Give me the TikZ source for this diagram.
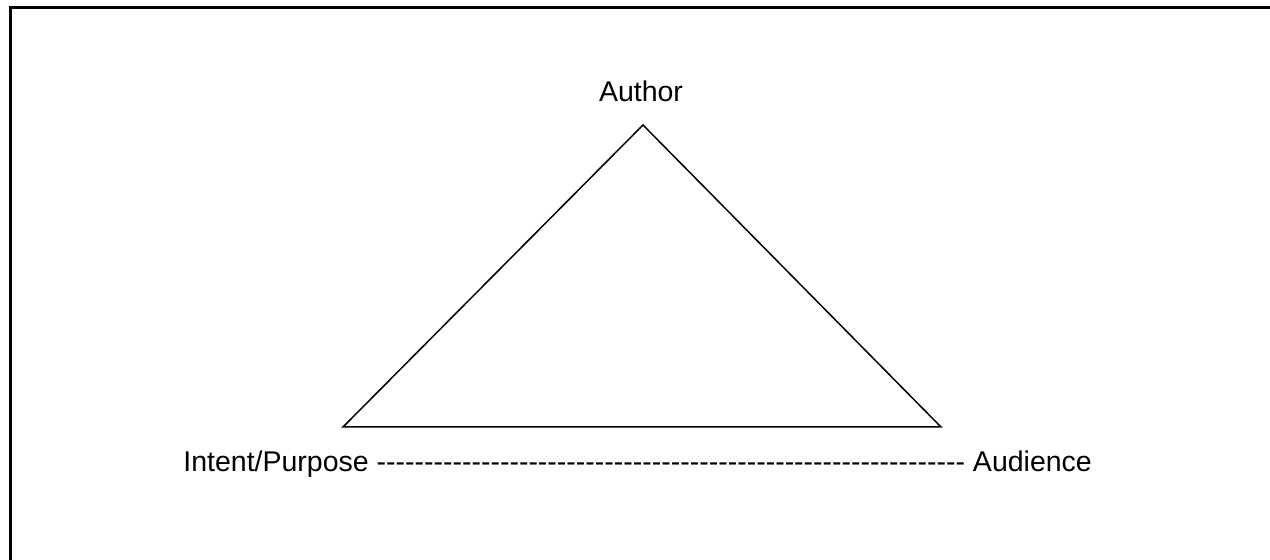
\documentclass[tikz,border=0pt]{standalone}
\usepackage{fontspec}
\setmainfont{Liberation Sans}
\newcommand\hyphrun[1]{\foreach\k in {1,...,#1}{\mbox{-}}}
\begin{document}
\begin{tikzpicture}[x=0.5pt,y=-0.5pt,
  lbl/.style={inner sep=0pt,font=\fontsize{14.25}{17}\selectfont},
  frameline/.style={line width=1.5pt},
  triline/.style={line width=0.75pt,line join=miter}]
\useasboundingbox (0,0) rectangle (1270,560);
% frame (open to right and bottom)
\coordinate (fbl) at (10,560);
\coordinate (ftl) at (10,8);
\coordinate (ftr) at (1270,8);
\draw[frameline] (fbl) -- (ftl) -- (ftr);
% triangle
\coordinate (apex) at (643,125);
\coordinate (bl) at (343,427);
\coordinate (br) at (941,427);
\draw[triline] (apex) -- (br) -- (bl) -- cycle;
% labels
\node[lbl,anchor=base] (author) at (641,102) {Author};
\node[lbl,anchor=base west] (bottom) at (183,472) {Intent/Purpose \hyphrun{62} Audience};
\end{tikzpicture}
\end{document}
